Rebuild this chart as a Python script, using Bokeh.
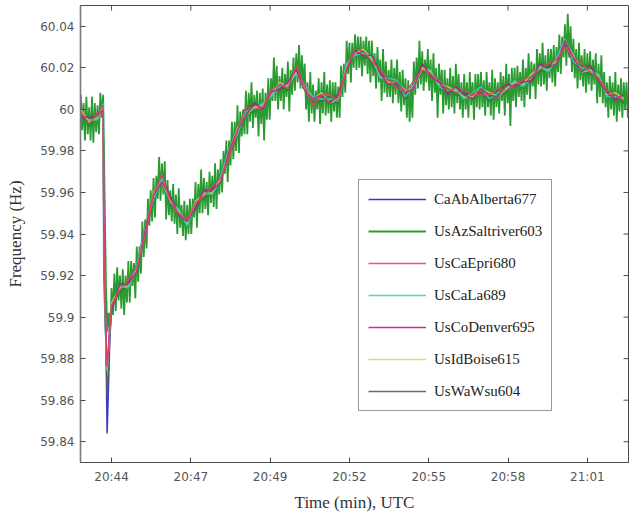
import math
from bokeh.plotting import figure
from bokeh.models import FixedTicker, Range1d, Legend, LegendItem
from bokeh.embed import file_html
from bokeh.resources import INLINE

# ---- measured grid frequency, minutes past 20:00 UTC ----
# high-rate record of the Salt River unit, one sample every 0.05 min from 20:42.9
saltriver_start = 42.9
saltriver_step = 0.05
saltriver603 = [
    60.007, 59.990, 60.003, 59.985, 60.006, 59.988, 60.001, 59.985, 60.006, 59.984,
    60.003, 59.989, 60.002, 59.988, 60.008, 59.996, 60.007, 59.960, 59.915, 59.893,
    59.902, 59.893, 59.914, 59.901, 59.921, 59.903, 59.924, 59.908, 59.920, 59.904,
    59.923, 59.901, 59.920, 59.907, 59.927, 59.907, 59.927, 59.915, 59.926, 59.909,
    59.934, 59.917, 59.934, 59.921, 59.946, 59.929, 59.947, 59.933, 59.957, 59.944,
    59.961, 59.946, 59.967, 59.948, 59.968, 59.957, 59.977, 59.956, 59.974, 59.959,
    59.975, 59.947, 59.966, 59.949, 59.961, 59.946, 59.964, 59.945, 59.959, 59.940,
    59.962, 59.943, 59.954, 59.939, 59.956, 59.937, 59.954, 59.940, 59.957, 59.940,
    59.957, 59.948, 59.965, 59.943, 59.964, 59.950, 59.971, 59.950, 59.967, 59.952,
    59.965, 59.949, 59.970, 59.955, 59.968, 59.953, 59.974, 59.952, 59.971, 59.959,
    59.976, 59.960, 59.980, 59.969, 59.985, 59.965, 59.985, 59.973, 59.994, 59.976,
    59.994, 59.980, 60.002, 59.979, 59.999, 59.987, 60.000, 59.988, 60.009, 59.988,
    60.008, 59.994, 60.013, 59.991, 60.007, 59.996, 60.009, 59.987, 60.008, 59.993,
    60.010, 59.985, 60.008, 59.995, 60.015, 59.995, 60.015, 60.004, 60.025, 60.004,
    60.021, 60.000, 60.016, 60.004, 60.020, 60.000, 60.017, 60.006, 60.023, 59.999,
    60.019, 60.007, 60.025, 60.009, 60.027, 60.013, 60.031, 60.010, 60.026, 60.010,
    60.022, 60.000, 60.013, 59.994, 60.018, 59.998, 60.012, 59.994, 60.009, 60.000,
    60.015, 59.993, 60.013, 59.998, 60.018, 59.997, 60.012, 59.998, 60.014, 59.994,
    60.013, 59.999, 60.013, 59.996, 60.011, 59.996, 60.021, 60.006, 60.022, 60.008,
    60.033, 60.017, 60.032, 60.013, 60.032, 60.020, 60.036, 60.019, 60.035, 60.020,
    60.035, 60.016, 60.033, 60.021, 60.035, 60.017, 60.033, 60.013, 60.033, 60.016,
    60.027, 60.010, 60.030, 60.013, 60.024, 60.004, 60.029, 60.008, 60.023, 60.006,
    60.019, 60.006, 60.024, 60.003, 60.020, 60.007, 60.024, 60.003, 60.018, 59.999,
    60.019, 60.002, 60.015, 59.996, 60.014, 59.994, 60.011, 59.996, 60.023, 60.007,
    60.025, 60.010, 60.033, 60.012, 60.028, 60.009, 60.024, 60.013, 60.029, 60.009,
    60.024, 60.004, 60.027, 60.008, 60.020, 59.996, 60.022, 60.007, 60.019, 59.998,
    60.019, 60.002, 60.015, 60.000, 60.020, 60.001, 60.016, 59.998, 60.022, 60.003,
    60.017, 60.000, 60.013, 59.996, 60.017, 60.000, 60.013, 59.996, 60.018, 60.002,
    60.013, 59.995, 60.017, 60.001, 60.017, 60.000, 60.018, 60.001, 60.014, 59.997,
    60.018, 60.001, 60.013, 59.997, 60.019, 59.995, 60.015, 60.001, 60.013, 59.998,
    60.018, 60.004, 60.016, 59.997, 60.022, 60.003, 60.017, 59.992, 60.020, 60.004,
    60.020, 60.001, 60.021, 60.006, 60.018, 60.004, 60.024, 60.001, 60.020, 60.007,
    60.027, 60.005, 60.023, 60.011, 60.022, 60.005, 60.029, 60.012, 60.027, 60.011,
    60.032, 60.012, 60.026, 60.009, 60.029, 60.015, 60.029, 60.013, 60.031, 60.011,
    60.030, 60.018, 60.036, 60.017, 60.035, 60.025, 60.041, 60.021, 60.046, 60.025,
    60.040, 60.018, 60.034, 60.015, 60.029, 60.010, 60.032, 60.014, 60.026, 60.011,
    60.029, 60.008, 60.027, 60.012, 60.028, 60.009, 60.024, 60.012, 60.027, 60.003,
    60.022, 60.006, 60.026, 60.003, 60.018, 60.001, 60.013, 59.996, 60.016, 60.000,
    60.013, 59.997, 60.018, 59.994, 60.012, 59.999, 60.015, 59.996, 60.013, 60.000,
    60.013, 59.996,
]
saltriver_t = [round(saltriver_start + i * saltriver_step, 2) for i in range(len(saltriver603))]

# the other units, reported on a coarser time base (denser around the trip)
unit_t = [
    42.9, 43.2, 43.5, 43.7,
    43.72, 43.76, 43.8, 43.84, 43.88, 43.94,
    44.0, 44.3, 44.6, 44.9, 45.2, 45.5, 45.8, 46.1, 46.4, 46.7,
    47.0, 47.3, 47.6, 47.9, 48.2, 48.5, 48.8, 49.1, 49.4, 49.7,
    50.0, 50.3, 50.6, 50.9, 51.2, 51.5, 51.8, 52.1, 52.4, 52.7,
    53.0, 53.3, 53.6, 53.9, 54.2, 54.5, 54.8, 55.1, 55.4, 55.7,
    56.0, 56.3, 56.6, 56.9, 57.2, 57.5, 57.8, 58.1, 58.4, 58.7,
    59.0, 59.3, 59.6, 59.9, 60.2, 60.5, 60.8, 61.1, 61.4, 61.7,
    62.0, 62.3,
]
alberta677 = [
    59.999, 59.992, 59.997, 60.003,
    59.925, 59.902, 59.888, 59.844, 59.862, 59.890,
    59.906, 59.912, 59.916, 59.925, 59.943, 59.958, 59.966, 59.954, 59.951, 59.946,
    59.955, 59.957, 59.961, 59.968, 59.981, 59.989, 59.998, 59.999, 60.002, 60.008,
    60.012, 60.009, 60.019, 60.012, 60.006, 60.006, 60.004, 60.003, 60.021, 60.028,
    60.028, 60.022, 60.017, 60.015, 60.014, 60.007, 60.011, 60.018, 60.018, 60.013,
    60.010, 60.007, 60.007, 60.008, 60.011, 60.006, 60.007, 60.008, 60.013, 60.013,
    60.016, 60.018, 60.020, 60.025, 60.034, 60.024, 60.019, 60.017, 60.016, 60.008,
    60.007, 60.003,
]
epri680 = [
    59.999, 59.993, 59.998, 60.002,
    59.950, 59.910, 59.892, 59.876, 59.882, 59.896,
    59.906, 59.913, 59.918, 59.924, 59.939, 59.959, 59.969, 59.955, 59.950, 59.947,
    59.955, 59.958, 59.963, 59.967, 59.977, 59.990, 60.001, 60.000, 60.001, 60.009,
    60.012, 60.010, 60.021, 60.011, 60.002, 60.007, 60.007, 60.004, 60.020, 60.029,
    60.028, 60.023, 60.019, 60.014, 60.010, 60.008, 60.014, 60.019, 60.017, 60.014,
    60.010, 60.008, 60.009, 60.007, 60.007, 60.007, 60.010, 60.009, 60.012, 60.014,
    60.016, 60.019, 60.022, 60.024, 60.030, 60.025, 60.022, 60.018, 60.015, 60.009,
    60.007, 60.004,
]
la689 = [
    59.998, 59.995, 59.995, 60.003,
    59.948, 59.908, 59.890, 59.874, 59.880, 59.895,
    59.905, 59.915, 59.914, 59.925, 59.943, 59.957, 59.967, 59.955, 59.952, 59.944,
    59.954, 59.960, 59.959, 59.968, 59.981, 59.988, 59.999, 60.000, 60.003, 60.006,
    60.011, 60.012, 60.017, 60.012, 60.006, 60.005, 60.005, 60.004, 60.022, 60.026,
    60.027, 60.025, 60.015, 60.015, 60.014, 60.006, 60.012, 60.019, 60.019, 60.011,
    60.009, 60.010, 60.005, 60.008, 60.011, 60.005, 60.008, 60.009, 60.014, 60.011,
    60.015, 60.021, 60.018, 60.025, 60.034, 60.023, 60.020, 60.018, 60.017, 60.006,
    60.006, 60.006,
]
denver695 = [
    59.997, 59.996, 59.997, 60.000,
    59.952, 59.912, 59.893, 59.877, 59.883, 59.897,
    59.904, 59.916, 59.916, 59.922, 59.942, 59.959, 59.965, 59.958, 59.949, 59.946,
    59.953, 59.961, 59.961, 59.965, 59.980, 59.990, 59.997, 60.003, 60.000, 60.008,
    60.010, 60.013, 60.019, 60.009, 60.005, 60.007, 60.003, 60.007, 60.019, 60.028,
    60.026, 60.026, 60.017, 60.012, 60.013, 60.008, 60.010, 60.022, 60.016, 60.013,
    60.008, 60.011, 60.007, 60.005, 60.010, 60.007, 60.006, 60.012, 60.011, 60.013,
    60.014, 60.022, 60.020, 60.022, 60.033, 60.025, 60.018, 60.021, 60.014, 60.008,
    60.005, 60.007,
]
boise615 = [
    60.000, 59.994, 59.996, 60.001,
    59.949, 59.909, 59.891, 59.875, 59.881, 59.896,
    59.907, 59.914, 59.915, 59.923, 59.942, 59.960, 59.965, 59.956, 59.951, 59.945,
    59.956, 59.959, 59.960, 59.966, 59.980, 59.991, 59.997, 60.001, 60.002, 60.007,
    60.013, 60.011, 60.018, 60.010, 60.005, 60.008, 60.003, 60.005, 60.021, 60.027,
    60.029, 60.024, 60.016, 60.013, 60.013, 60.009, 60.010, 60.020, 60.018, 60.012,
    60.011, 60.009, 60.006, 60.006, 60.010, 60.008, 60.006, 60.010, 60.013, 60.012,
    60.017, 60.020, 60.019, 60.023, 60.033, 60.026, 60.018, 60.019, 60.016, 60.007,
    60.008, 60.005,
]
wsu604 = [
    59.996, 59.995, 59.998, 60.002,
    59.950, 59.905, 59.885, 59.862, 59.872, 59.893,
    59.903, 59.915, 59.917, 59.924, 59.940, 59.956, 59.968, 59.958, 59.950, 59.947,
    59.952, 59.960, 59.962, 59.967, 59.978, 59.987, 60.000, 60.003, 60.001, 60.009,
    60.009, 60.012, 60.020, 60.011, 60.003, 60.004, 60.006, 60.007, 60.020, 60.029,
    60.025, 60.025, 60.018, 60.014, 60.011, 60.005, 60.013, 60.022, 60.017, 60.014,
    60.007, 60.010, 60.008, 60.007, 60.008, 60.004, 60.009, 60.012, 60.012, 60.014,
    60.013, 60.021, 60.021, 60.024, 60.031, 60.022, 60.021, 60.021, 60.015, 60.009,
    60.004, 60.006,
]

unit_names = ["CaAbAlberta677", "UsAzSaltriver603", "UsCaEpri680", "UsCaLa689",
              "UsCoDenver695", "UsIdBoise615", "UsWaWsu604"]

# axis ticks
freq_ticks = [60.04, 60.02, 60.0, 59.98, 59.96, 59.94, 59.92, 59.90, 59.88, 59.86, 59.84]
freq_tick_labels = ["60.04", "60.02", "60", "59.98", "59.96", "59.94", "59.92",
                    "59.9", "59.88", "59.86", "59.84"]
time_tick_labels = ["20:44", "20:47", "20:49", "20:52", "20:55", "20:58", "21:01"]
time_tick_first = 44.0
time_tick_spacing = 17.0 / 6.0
time_ticks = [time_tick_first + k * time_tick_spacing for k in range(len(time_tick_labels))]

x_lo, x_hi = 42.89, 62.47
y_lo, y_hi = 59.83, 60.05

serif = "Liberation Serif"
tick_font = "DejaVu Sans"
frame_color = "#4a4a4a"

p = figure(width=629, height=514, output_backend="svg", toolbar_location=None,
           x_range=Range1d(x_lo, x_hi), y_range=Range1d(y_lo, y_hi),
           min_border_left=80, min_border_right=1, min_border_top=5, min_border_bottom=52,
           background_fill_color="white", border_fill_color="white")
p.grid.visible = False
p.outline_line_color = frame_color
p.outline_line_width = 1

colors = {
    "CaAbAlberta677": "#2424b8",
    "UsAzSaltriver603": "#12901a",
    "UsCaEpri680": "#e2475e",
    "UsCaLa689": "#3fcfc4",
    "UsCoDenver695": "#c4168e",
    "UsIdBoise615": "#d8d46a",
    "UsWaWsu604": "#5a5a5a",
}
series = {
    "CaAbAlberta677": (unit_t, alberta677),
    "UsAzSaltriver603": (saltriver_t, saltriver603),
    "UsCaEpri680": (unit_t, epri680),
    "UsCaLa689": (unit_t, la689),
    "UsCoDenver695": (unit_t, denver695),
    "UsIdBoise615": (unit_t, boise615),
    "UsWaWsu604": (unit_t, wsu604),
}
widths = {"CaAbAlberta677": 1.5, "UsAzSaltriver603": 1.8}
# the smoother units go over the noisy trace; red and magenta end up on top
draw_order = ["CaAbAlberta677", "UsAzSaltriver603", "UsWaWsu604", "UsIdBoise615",
              "UsCaLa689", "UsCoDenver695", "UsCaEpri680"]
renderers = {}
for name in draw_order:
    xs, ys = series[name]
    renderers[name] = p.line(xs, ys, line_color=colors[name],
                             line_width=widths.get(name, 1.4), line_alpha=0.9)

# bottom and left axes
xa = p.xaxis[0]
xa.ticker = FixedTicker(ticks=time_ticks)
xa.major_label_overrides = {t: s for t, s in zip(time_ticks, time_tick_labels)}
ya = p.yaxis[0]
ya.ticker = FixedTicker(ticks=freq_ticks)
ya.major_label_overrides = {t: s for t, s in zip(freq_ticks, freq_tick_labels)}

for ax in (xa, ya):
    ax.axis_line_color = frame_color
    ax.major_tick_line_color = frame_color
    ax.minor_tick_line_color = None
    ax.major_tick_in = 5
    ax.major_tick_out = 0
    ax.major_label_text_font = tick_font
    ax.major_label_text_font_size = "12px"
    ax.major_label_text_color = "#555555"
    ax.axis_label_text_font = serif
    ax.axis_label_text_font_style = "normal"
    ax.axis_label_text_font_size = "17px"
    ax.axis_label_text_color = "#333333"
ya.axis_line_width = 1.6
ya.axis_line_color = "#7a7a7a"
xa.axis_label = "Time (min), UTC"
ya.axis_label = "Frequency (Hz)"
xa.major_label_standoff = 7
ya.major_label_standoff = 6
xa.axis_label_standoff = 6
ya.axis_label_standoff = 12

# mirrored tick marks along the top and right edges of the box
p.ray(x=time_ticks, y=[y_hi] * len(time_ticks), length=5, length_units="screen",
      angle=-math.pi / 2, line_color=frame_color, line_width=1)
p.ray(x=[x_hi] * len(freq_ticks), y=freq_ticks, length=5, length_units="screen",
      angle=math.pi, line_color=frame_color, line_width=1)

legend = Legend(
    items=[LegendItem(label=n, renderers=[renderers[n]]) for n in unit_names],
    location=(278, 51),
    orientation="vertical",
    glyph_width=58, glyph_height=20, label_height=20,
    spacing=12, padding=9, margin=0,
    label_standoff=8,
    label_text_font=serif, label_text_font_size="15px", label_text_color="#222222",
    border_line_color="#333333", border_line_width=1,
    background_fill_color="white", background_fill_alpha=1.0,
)
p.add_layout(legend, "center")

open("out.html", "w").write(file_html(p, INLINE))
